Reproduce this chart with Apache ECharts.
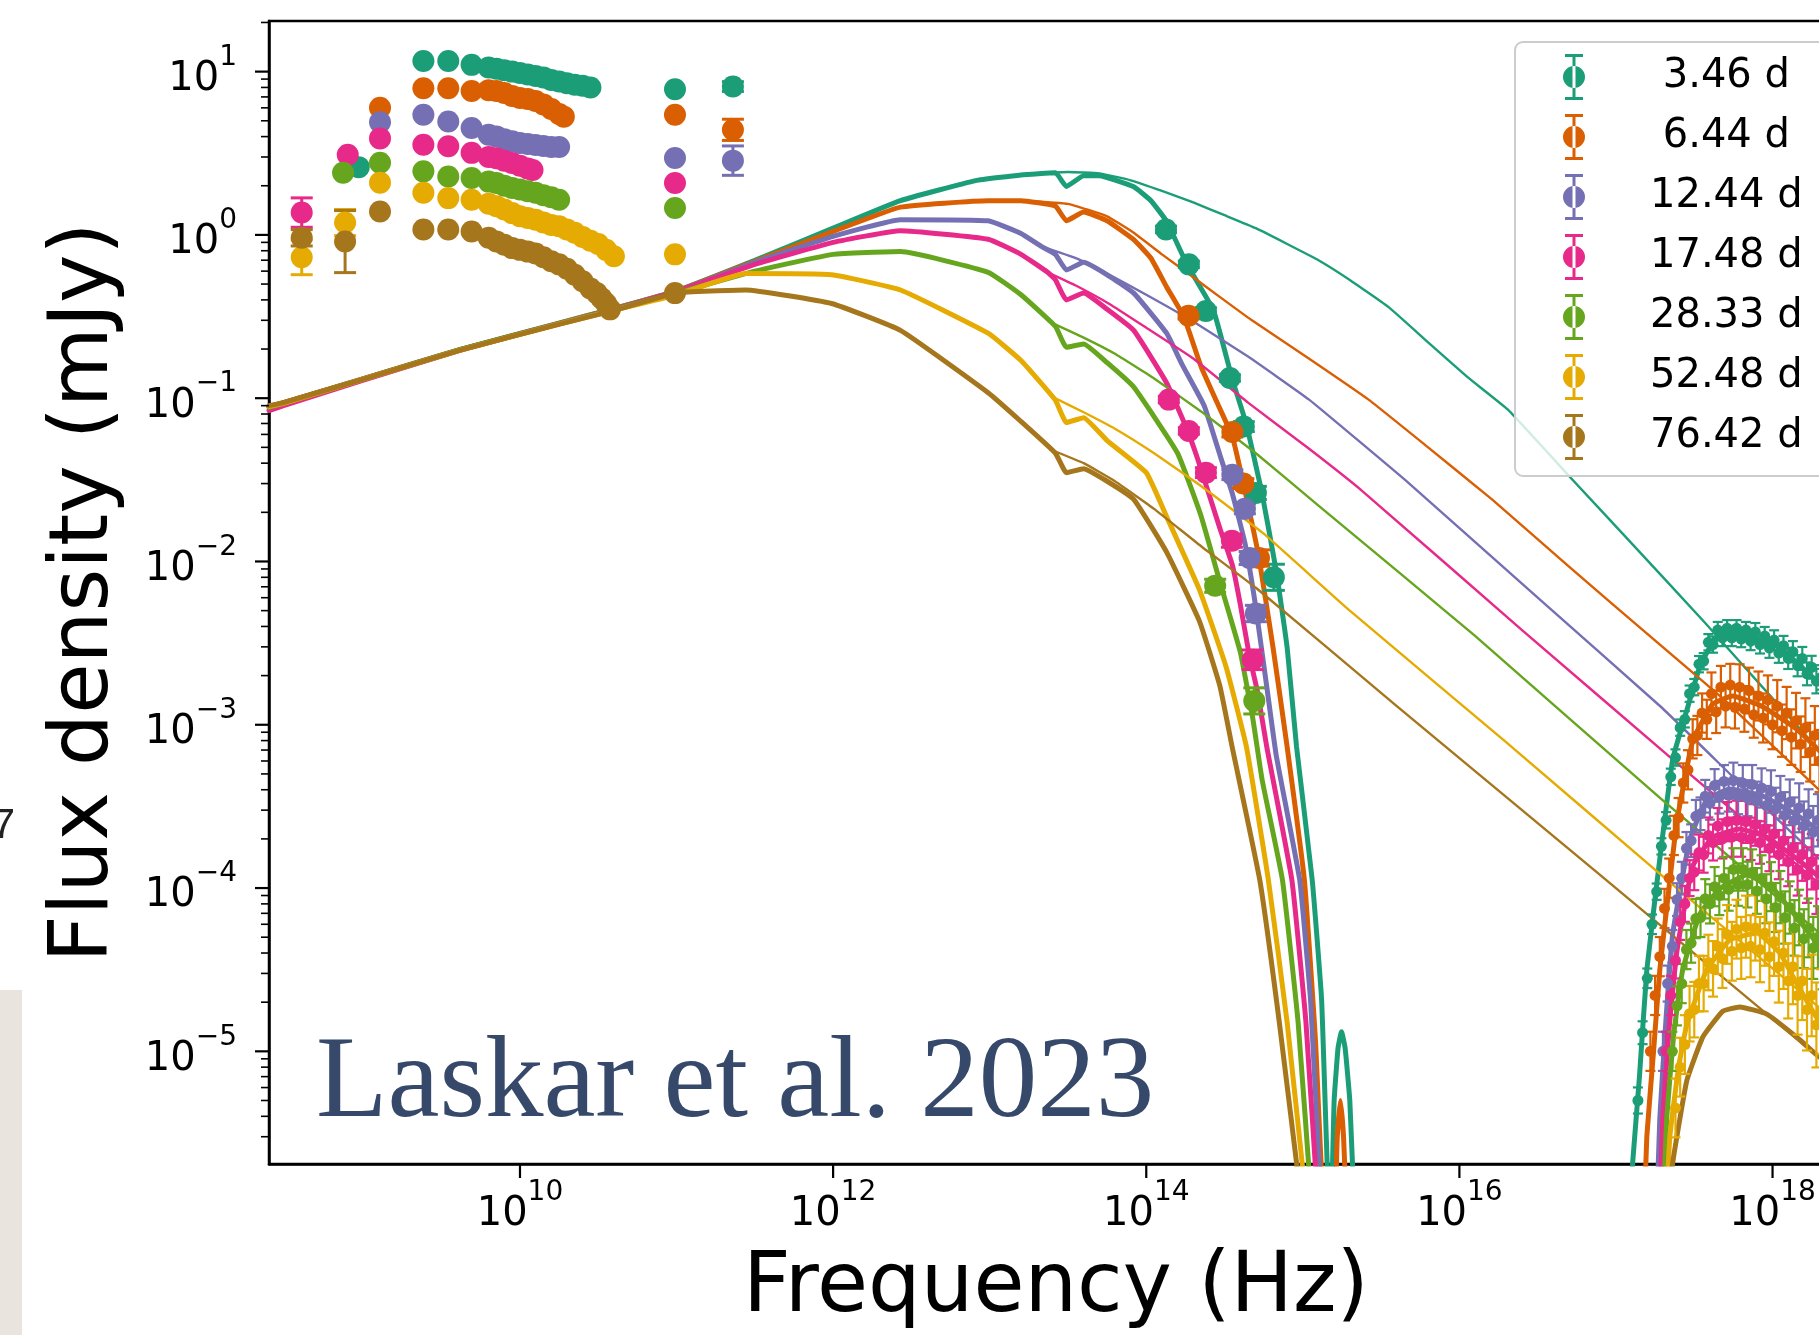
<!DOCTYPE html>
<html>
<head>
<meta charset="utf-8">
<script src="https://cdn.jsdelivr.net/npm/echarts@6/dist/echarts.min.js"></script>
<style>
  html, body { margin: 0; padding: 0; background: #ffffff; overflow: hidden; width: 1819px; height: 1335px; }
  /* the drawing surface is a bit wider than the page: the frame runs past its right edge */
  #chart { width: 1860px; height: 1335px; }
</style>
</head>
<body>
<div id="chart"></div>
<script>
// Afterglow SED of the burst at seven epochs.
// Every row is [log10(frequency / Hz), flux density / mJy (, error half-width in dex)].

const epochLabels = [' 3.46 d', ' 6.44 d', '12.44 d', '17.48 d', '28.33 d', '52.48 d', '76.42 d'];
const epochColors = ['#1b9e77', '#d95f02', '#7570b3', '#e7298a', '#66a61e', '#e6ab02', '#a6761d'];

// Tick layout of the log axes (exponents of ten)
const yMajorExponents = [-5, -4, -3, -2, -1, 0, 1];
const yMinorMultipliers = [2, 3, 4, 5, 6, 7, 8, 9];
const xMajorExponents = [10, 12, 14, 16, 18];
const logFreqRange = [8.397, 18.45];
const logFluxRange = [-5.69, 1.31];

// ---- model with host absorption / extinction (radio to UV) ----
const absorbed_346 = [[8.397,0.089],[8.49,0.094],[8.98,0.130],[9.62,0.199],[10.26,0.290],[10.58,0.350],[11.0,0.455],[11.5,0.70],[12.0,1.10],[12.43,1.62],[12.91,2.15],[13.2,2.33],[13.42,2.40],[13.49,1.98],[13.60,2.30],[13.70,2.30],[13.92,1.97],[14.03,1.62],[14.13,1.21],[14.26,0.66],[14.43,0.343],[14.55,0.130],[14.64,0.0687],[14.74,0.0259],[14.83,0.00875],[14.90,0.00296],[14.96,7.3e-4],[15.06,1.12e-4],[15.12,2.06e-5],[15.17,1e-6],[15.18,1e-6],[15.20,5e-6],[15.225,1.05e-5],[15.247,1.32e-5],[15.27,1.05e-5],[15.30,5e-6],[15.33,1e-6]];
const absorbed_644 = [[8.397,0.089],[8.49,0.094],[8.98,0.130],[9.62,0.199],[10.26,0.289],[10.58,0.349],[11.0,0.452],[11.5,0.69],[12.0,1.05],[12.43,1.48],[12.99,1.62],[13.2,1.62],[13.42,1.50],[13.49,1.22],[13.60,1.38],[13.75,1.22],[13.92,0.935],[14.03,0.72],[14.13,0.48],[14.24,0.315],[14.35,0.156],[14.45,0.095],[14.55,0.058],[14.62,0.030],[14.72,0.0105],[14.81,2.96e-3],[14.90,7.3e-4],[15.01,1.12e-4],[15.08,1.2e-5],[15.14,1e-6],[15.20,1e-6],[15.22,3e-6],[15.24,5e-6],[15.26,3e-6],[15.28,1e-6]];
const absorbed_1244 = [[8.397,0.088],[8.49,0.093],[8.98,0.129],[9.62,0.198],[10.26,0.288],[10.58,0.347],[11.0,0.45],[11.5,0.68],[12.0,0.98],[12.43,1.24],[12.99,1.22],[13.2,1.02],[13.33,0.85],[13.42,0.76],[13.49,0.61],[13.60,0.68],[13.75,0.57],[13.92,0.44],[14.13,0.25],[14.23,0.16],[14.37,0.09],[14.47,0.045],[14.55,0.026],[14.63,0.013],[14.70,0.0052],[14.77,1.7e-3],[14.83,6.5e-4],[14.98,1.12e-4],[15.05,2e-5],[15.12,1e-6]];
const absorbed_1748 = [[8.397,0.084],[8.49,0.090],[8.98,0.127],[9.62,0.197],[10.26,0.287],[10.58,0.346],[11.0,0.45],[11.5,0.66],[12.0,0.90],[12.43,1.06],[12.99,0.94],[13.2,0.76],[13.37,0.59],[13.42,0.53],[13.49,0.40],[13.60,0.44],[13.75,0.35],[13.92,0.26],[14.13,0.124],[14.25,0.068],[14.33,0.042],[14.47,0.016],[14.55,0.0095],[14.60,0.0055],[14.66,0.0026],[14.71,1.6e-3],[14.77,7.3e-4],[14.93,1.12e-4],[15.02,1.5e-5],[15.10,1e-6]];
const absorbed_2833 = [[8.397,0.088],[8.49,0.093],[8.98,0.129],[9.62,0.198],[10.26,0.287],[10.58,0.345],[11.0,0.44],[11.5,0.60],[12.0,0.76],[12.43,0.79],[12.99,0.59],[13.2,0.43],[13.42,0.275],[13.49,0.205],[13.60,0.215],[13.75,0.165],[13.92,0.117],[14.20,0.046],[14.35,0.019],[14.47,0.0075],[14.60,2.8e-3],[14.68,1.1e-3],[14.74,4.6e-4],[14.87,1.12e-4],[14.97,1.5e-5],[15.06,1e-6]];
const absorbed_5248 = [[8.397,0.089],[8.49,0.093],[8.98,0.129],[9.62,0.197],[10.26,0.286],[10.58,0.342],[11.0,0.43],[11.44,0.58],[11.99,0.57],[12.43,0.46],[12.99,0.25],[13.2,0.17],[13.42,0.097],[13.49,0.071],[13.60,0.076],[13.75,0.055],[14.0,0.035],[14.13,0.0188],[14.34,0.0067],[14.51,0.00226],[14.64,7.3e-4],[14.78,1.12e-4],[14.90,1.5e-5],[15.03,1e-6]];
const absorbed_7642 = [[8.397,0.090],[8.49,0.094],[8.98,0.129],[9.62,0.197],[10.26,0.285],[10.58,0.340],[11.0,0.44],[11.44,0.46],[11.99,0.38],[12.43,0.26],[12.99,0.108],[13.2,0.072],[13.42,0.046],[13.49,0.035],[13.60,0.037],[13.75,0.031],[13.92,0.024],[14.13,0.0114],[14.34,0.0043],[14.47,0.00173],[14.55,7.2e-4],[14.725,1.12e-4],[14.85,1.5e-5],[15.0,1e-6]];

// ---- absorbed model in the X-ray band ----
const xrayModel_346 = [[17.09,1e-6],[17.107,2.1e-6],[17.15,7e-6],[17.197,3.15e-5],[17.28,1.51e-4],[17.363,6.18e-4],[17.452,1.22e-3],[17.535,2.26e-3],[17.618,3.2e-3],[17.70,3.6e-3],[17.835,3.55e-3],[18.046,2.96e-3],[18.257,1.95e-3],[18.45,1.3e-3]];
const xrayModel_644 = [[17.18,1e-6],[17.197,3e-6],[17.24,1.0e-5],[17.28,3.15e-5],[17.389,2.54e-4],[17.49,7.96e-4],[17.618,1.34e-3],[17.746,1.50e-3],[17.937,1.29e-3],[18.155,9.4e-4],[18.257,7.6e-4],[18.45,5.0e-4]];
const xrayModel_1244 = [[17.26,1e-6],[17.28,3.9e-6],[17.32,1.6e-5],[17.363,5.3e-5],[17.471,1.97e-4],[17.579,3.46e-4],[17.726,4.04e-4],[17.937,3.66e-4],[18.155,2.8e-4],[18.283,2.3e-4],[18.45,1.75e-4]];
const xrayModel_1748 = [[17.28,1e-6],[17.299,3.9e-6],[17.34,1.4e-5],[17.389,4.1e-5],[17.49,1.36e-4],[17.618,2.05e-4],[17.79,2.3e-4],[17.963,2.05e-4],[18.155,1.51e-4],[18.283,1.2e-4],[18.45,8.8e-5]];
const xrayModel_2833 = [[17.30,1e-6],[17.324,3.9e-6],[17.37,1.3e-5],[17.426,3.15e-5],[17.535,6.9e-5],[17.663,9.9e-5],[17.835,1.2e-4],[18.001,1.0e-4],[18.155,6.6e-5],[18.283,4.6e-5],[18.45,3.0e-5]];
const xrayModel_5248 = [[17.32,1e-6],[17.344,3e-6],[17.40,8e-6],[17.452,1.45e-5],[17.579,3.15e-5],[17.726,4.8e-5],[17.899,5.3e-5],[18.046,4.0e-5],[18.155,2.6e-5],[18.283,1.6e-5],[18.45,9e-6]];
const xrayModel_7642 = [[17.33,1e-6],[17.363,2.1e-6],[17.452,6.6e-6],[17.554,1.22e-5],[17.682,1.76e-5],[17.790,1.87e-5],[17.963,1.69e-5],[18.155,1.22e-5],[18.283,9.5e-6],[18.45,7e-6]];

// ---- intrinsic (unabsorbed) model above the peak ----
const intrinsic_346 = [[13.30,2.38],[13.50,2.43],[13.70,2.38],[13.90,2.16],[14.10,1.86],[14.30,1.58],[14.50,1.32],[14.70,1.10],[14.90,0.88],[15.10,0.70],[15.30,0.53],[15.55,0.36],[15.80,0.22],[16.05,0.135],[16.31,0.085],[16.70,0.0334],[17.10,0.0129],[17.57,4.2e-3],[18.0,1.45e-3],[18.45,4.8e-4]];
const intrinsic_644 = [[13.20,1.62],[13.50,1.55],[13.75,1.30],[13.92,1.03],[14.10,0.76],[14.30,0.55],[14.48,0.41],[14.67,0.302],[15.05,0.172],[15.42,0.098],[15.80,0.050],[16.21,0.0239],[16.70,0.0093],[17.20,3.6e-3],[17.67,1.48e-3],[18.45,2.9e-4]];
const intrinsic_1244 = [[13.33,0.85],[13.55,0.72],[13.75,0.58],[14.00,0.43],[14.30,0.295],[14.65,0.18],[15.04,0.098],[15.68,0.030],[16.50,6.0e-3],[17.29,1.28e-3],[17.82,4.1e-4],[18.45,1.1e-4]];
const intrinsic_1748 = [[13.37,0.59],[13.55,0.49],[13.77,0.375],[14.00,0.27],[14.30,0.175],[14.65,0.094],[15.04,0.049],[15.38,0.027],[16.40,3.8e-3],[17.41,5.6e-4],[18.45,8.0e-5]];
const intrinsic_2833 = [[13.40,0.288],[13.60,0.235],[13.80,0.187],[14.05,0.132],[14.35,0.083],[14.70,0.046],[15.10,0.022],[16.10,3.5e-3],[17.29,3.5e-4],[18.45,4.0e-5]];
const intrinsic_5248 = [[13.40,0.102],[13.60,0.082],[13.80,0.065],[14.05,0.046],[14.35,0.029],[14.75,0.0148],[15.30,5.0e-3],[16.30,7.8e-4],[17.29,1.2e-4],[18.45,1.4e-5]];
const intrinsic_7642 = [[13.40,0.048],[13.60,0.040],[13.80,0.031],[14.05,0.021],[14.35,0.0124],[14.70,6.9e-3],[15.60,1.3e-3],[16.50,2.5e-4],[17.25,6.3e-5],[18.15,1.2e-5],[18.45,6.9e-6]];

// ---- radio / mm / NIR-optical measurements: [lg nu, mJy, error in dex] ----
const obs_346 = [[8.97,2.6,0],[9.383,11.6,0],[9.542,11.6,0],[9.691,11.0,0],[9.80,10.6,0],[9.85,10.4,0],[9.90,10.2,0],[9.95,10.0,0],[10.00,9.8,0],[10.05,9.6,0],[10.10,9.4,0],[10.15,9.2,0],[10.20,8.9,0],[10.25,8.7,0],[10.30,8.5,0],[10.35,8.3,0],[10.40,8.2,0],[10.45,8.0,0],[10.99,7.8,0],[11.36,8.1,0.03],[14.126,1.08,0.02],[14.272,0.66,0.02],[14.381,0.342,0.02],[14.534,0.133,0.02],[14.623,0.067,0.03],[14.70,0.0263,0.04],[14.815,0.0080,0.08]];
const obs_644 = [[9.106,6.0,0],[9.383,7.9,0],[9.542,7.9,0],[9.691,7.6,0],[9.80,7.7,0],[9.85,7.6,0],[9.90,7.4,0],[9.95,7.1,0],[10.00,6.9,0],[10.05,6.8,0],[10.10,6.6,0],[10.15,6.3,0],[10.20,5.9,0],[10.25,5.5,0],[10.28,5.3,0],[10.99,5.45,0],[11.36,4.4,0.065],[14.27,0.32,0.02],[14.55,0.062,0.03],[14.62,0.030,0.03],[14.72,0.0105,0.05]];
const obs_1244 = [[9.106,4.9,0],[9.383,5.45,0],[9.542,4.95,0],[9.691,4.52,0],[9.80,4.1,0],[9.85,4.0,0],[9.90,3.85,0],[9.95,3.75,0],[10.00,3.65,0],[10.05,3.6,0],[10.10,3.55,0],[10.15,3.5,0],[10.20,3.45,0],[10.25,3.45,0],[10.99,2.96,0],[11.36,2.85,0.09],[14.55,0.034,0.03],[14.63,0.021,0.03],[14.66,0.0105,0.04],[14.70,0.0048,0.05]];
const obs_1748 = [[8.606,1.37,0.09],[8.90,3.1,0],[9.106,3.9,0],[9.383,3.57,0],[9.542,3.49,0],[9.691,3.18,0],[9.80,3.0,0],[9.85,2.95,0],[9.90,2.85,0],[9.95,2.76,0],[10.00,2.65,0],[10.05,2.55,0],[10.08,2.5,0],[10.99,2.08,0],[14.144,0.098,0.02],[14.272,0.063,0.02],[14.381,0.035,0.03],[14.547,0.0134,0.04],[14.68,0.0025,0.06]];
const obs_2833 = [[8.87,2.4,0],[9.106,2.77,0],[9.383,2.45,0],[9.542,2.28,0],[9.691,2.23,0],[9.80,2.12,0],[9.85,2.08,0],[9.90,2.0,0],[9.95,1.94,0],[10.00,1.9,0],[10.05,1.85,0],[10.10,1.81,0],[10.15,1.75,0],[10.20,1.7,0],[10.25,1.64,0],[10.99,1.46,0],[14.44,0.0071,0.04],[14.69,0.0014,0.08]];
const obs_5248 = [[8.606,0.73,0.107],[8.883,1.19,0.08],[9.106,2.09,0],[9.383,1.81,0],[9.542,1.68,0],[9.691,1.64,0],[9.80,1.55,0],[9.85,1.50,0],[9.90,1.43,0],[9.95,1.36,0],[10.00,1.30,0],[10.05,1.27,0],[10.10,1.24,0],[10.15,1.19,0],[10.20,1.15,0],[10.25,1.13,0],[10.30,1.08,0],[10.35,1.03,0],[10.40,0.97,0],[10.45,0.92,0],[10.50,0.88,0],[10.55,0.81,0],[10.60,0.74,0],[10.99,0.76,0]];
const obs_7642 = [[8.606,0.96,0.05],[8.883,0.91,0.19],[9.106,1.39,0],[9.383,1.08,0],[9.542,1.08,0],[9.691,1.05,0],[9.80,0.96,0],[9.85,0.91,0],[9.90,0.87,0],[9.95,0.83,0],[10.00,0.81,0],[10.05,0.79,0],[10.10,0.77,0],[10.15,0.73,0],[10.20,0.69,0],[10.25,0.66,0],[10.30,0.62,0],[10.35,0.57,0],[10.40,0.52,0],[10.45,0.47,0],[10.49,0.44,0],[10.52,0.41,0],[10.55,0.38,0],[10.575,0.35,0],[10.99,0.44,0]];

// ---- X-ray spectra: [lg nu, mJy, error in dex] ----
const xrayObs_346 = [[17.14,5.0e-6,0.08],[17.17,1.3e-5,0.07],[17.20,2.8e-5,0.06],[17.23,6.0e-5,0.06],[17.26,9.5e-5,0.05],[17.29,1.8e-4,0.05],[17.32,2.6e-4,0.05],[17.35,4.8e-4,0.05],[17.38,6.3e-4,0.05],[17.41,9.6e-4,0.05],[17.44,1.08e-3,0.05],[17.47,1.55e-3,0.05],[17.50,1.7e-3,0.05],[17.53,2.35e-3,0.05],[17.56,2.45e-3,0.05],[17.59,3.2e-3,0.05],[17.62,3.1e-3,0.05],[17.65,3.8e-3,0.05],[17.68,3.4e-3,0.05],[17.71,3.9e-3,0.05],[17.74,3.4e-3,0.05],[17.77,3.9e-3,0.05],[17.80,3.35e-3,0.05],[17.83,3.8e-3,0.05],[17.86,3.25e-3,0.055],[17.89,3.7e-3,0.055],[17.92,3.1e-3,0.055],[17.95,3.5e-3,0.055],[17.98,2.95e-3,0.06],[18.01,3.3e-3,0.06],[18.04,2.75e-3,0.06],[18.07,3.05e-3,0.06],[18.10,2.55e-3,0.065],[18.13,2.8e-3,0.065],[18.16,2.3e-3,0.065],[18.19,2.55e-3,0.07],[18.22,2.05e-3,0.07],[18.25,2.25e-3,0.07],[18.28,1.85e-3,0.075],[18.31,1.95e-3,0.075]];
const xrayObs_644 = [[17.22,1.0e-5,0.12],[17.25,2.2e-5,0.12],[17.28,3.8e-5,0.12],[17.31,7.5e-5,0.12],[17.34,1.15e-4,0.12],[17.37,2.1e-4,0.12],[17.40,2.7e-4,0.12],[17.43,4.4e-4,0.12],[17.46,5.3e-4,0.12],[17.49,8.2e-4,0.12],[17.52,8.6e-4,0.12],[17.55,1.18e-3,0.12],[17.58,1.08e-3,0.12],[17.61,1.55e-3,0.13],[17.64,1.2e-3,0.13],[17.67,1.7e-3,0.13],[17.70,1.3e-3,0.13],[17.73,1.75e-3,0.13],[17.76,1.28e-3,0.13],[17.79,1.7e-3,0.14],[17.82,1.25e-3,0.14],[17.85,1.62e-3,0.14],[17.88,1.15e-3,0.14],[17.91,1.5e-3,0.15],[17.94,1.1e-3,0.15],[17.97,1.42e-3,0.15],[18.00,1.0e-3,0.15],[18.03,1.3e-3,0.16],[18.06,9.2e-4,0.16],[18.09,1.18e-3,0.16],[18.12,8.4e-4,0.17],[18.15,1.06e-3,0.17],[18.18,7.6e-4,0.17],[18.21,9.6e-4,0.18],[18.24,6.8e-4,0.18],[18.27,8.6e-4,0.18],[18.30,6.0e-4,0.19],[18.33,7.6e-4,0.19]];
const xrayObs_1244 = [[17.30,1.0e-5,0.12],[17.33,2.6e-5,0.11],[17.36,4.4e-5,0.1],[17.39,8.5e-5,0.1],[17.42,1.15e-4,0.1],[17.45,1.75e-4,0.1],[17.48,1.95e-4,0.1],[17.51,2.75e-4,0.1],[17.54,2.85e-4,0.1],[17.57,3.65e-4,0.1],[17.60,3.3e-4,0.1],[17.63,4.25e-4,0.1],[17.66,3.6e-4,0.1],[17.69,4.5e-4,0.1],[17.72,3.7e-4,0.1],[17.75,4.55e-4,0.11],[17.78,3.65e-4,0.11],[17.81,4.4e-4,0.11],[17.84,3.55e-4,0.11],[17.87,4.3e-4,0.12],[17.90,3.4e-4,0.12],[17.93,4.1e-4,0.12],[17.96,3.2e-4,0.12],[17.99,3.9e-4,0.13],[18.02,3.05e-4,0.13],[18.05,3.6e-4,0.13],[18.08,2.8e-4,0.14],[18.11,3.35e-4,0.14],[18.14,2.6e-4,0.14],[18.17,3.1e-4,0.15],[18.20,2.4e-4,0.15],[18.23,2.85e-4,0.15],[18.26,2.2e-4,0.16],[18.29,2.6e-4,0.16],[18.32,2.0e-4,0.17]];
const xrayObs_1748 = [[17.32,1.0e-5,0.12],[17.35,2.2e-5,0.12],[17.38,3.6e-5,0.11],[17.41,6.2e-5,0.11],[17.44,8.0e-5,0.11],[17.47,1.15e-4,0.11],[17.50,1.25e-4,0.11],[17.53,1.65e-4,0.11],[17.56,1.6e-4,0.11],[17.59,2.1e-4,0.11],[17.62,1.9e-4,0.11],[17.65,2.4e-4,0.11],[17.68,2.0e-4,0.12],[17.71,2.55e-4,0.12],[17.74,2.05e-4,0.12],[17.77,2.6e-4,0.12],[17.80,2.05e-4,0.12],[17.83,2.55e-4,0.13],[17.86,2.0e-4,0.13],[17.89,2.45e-4,0.13],[17.92,1.9e-4,0.13],[17.95,2.3e-4,0.14],[17.98,1.75e-4,0.14],[18.01,2.15e-4,0.14],[18.04,1.6e-4,0.15],[18.07,1.95e-4,0.15],[18.10,1.45e-4,0.15],[18.13,1.75e-4,0.16],[18.16,1.3e-4,0.16],[18.19,1.6e-4,0.16],[18.22,1.2e-4,0.17],[18.25,1.45e-4,0.17],[18.28,1.05e-4,0.18],[18.31,1.3e-4,0.18]];
const xrayObs_2833 = [[17.36,1.0e-5,0.12],[17.39,1.9e-5,0.12],[17.42,2.6e-5,0.12],[17.45,4.2e-5,0.12],[17.48,4.6e-5,0.12],[17.51,6.5e-5,0.12],[17.54,6.6e-5,0.12],[17.57,8.6e-5,0.12],[17.60,8.0e-5,0.12],[17.63,1.02e-4,0.12],[17.66,9.0e-5,0.12],[17.69,1.15e-4,0.13],[17.72,9.8e-5,0.13],[17.75,1.3e-4,0.13],[17.78,1.05e-4,0.13],[17.81,1.3e-4,0.13],[17.84,1.05e-4,0.14],[17.87,1.25e-4,0.14],[17.90,9.6e-5,0.14],[17.93,1.15e-4,0.14],[17.96,8.6e-5,0.15],[17.99,1.02e-4,0.15],[18.02,7.6e-5,0.15],[18.05,8.8e-5,0.16],[18.08,6.6e-5,0.16],[18.11,7.6e-5,0.16],[18.14,5.7e-5,0.17],[18.17,6.6e-5,0.17],[18.20,4.9e-5,0.18],[18.23,5.7e-5,0.18],[18.26,4.3e-5,0.19],[18.29,5.0e-5,0.19],[18.32,3.8e-5,0.2]];
const xrayObs_5248 = [[17.38,4.5e-6,0.18],[17.41,8.0e-6,0.18],[17.44,1.1e-5,0.18],[17.47,1.7e-5,0.17],[17.50,1.8e-5,0.17],[17.53,2.6e-5,0.17],[17.56,2.6e-5,0.17],[17.59,3.5e-5,0.17],[17.62,3.2e-5,0.17],[17.65,4.4e-5,0.17],[17.68,3.7e-5,0.18],[17.71,5.2e-5,0.18],[17.74,4.1e-5,0.18],[17.77,5.6e-5,0.18],[17.80,4.3e-5,0.19],[17.83,5.8e-5,0.19],[17.86,4.4e-5,0.19],[17.89,5.7e-5,0.2],[17.92,4.2e-5,0.2],[17.95,5.3e-5,0.2],[17.98,3.8e-5,0.21],[18.01,4.7e-5,0.21],[18.04,3.3e-5,0.22],[18.07,4.0e-5,0.22],[18.10,2.7e-5,0.23],[18.13,3.3e-5,0.23],[18.16,2.2e-5,0.24],[18.19,2.7e-5,0.24],[18.22,1.8e-5,0.25],[18.25,2.2e-5,0.25],[18.28,1.45e-5,0.26],[18.31,1.75e-5,0.26]];
const xrayObs_7642 = [];

const absorbedModels = [absorbed_346, absorbed_644, absorbed_1244, absorbed_1748, absorbed_2833, absorbed_5248, absorbed_7642];
const xrayModels = [xrayModel_346, xrayModel_644, xrayModel_1244, xrayModel_1748, xrayModel_2833, xrayModel_5248, xrayModel_7642];
const intrinsicModels = [intrinsic_346, intrinsic_644, intrinsic_1244, intrinsic_1748, intrinsic_2833, intrinsic_5248, intrinsic_7642];
const observations = [obs_346, obs_644, obs_1244, obs_1748, obs_2833, obs_5248, obs_7642];
const xrayObservations = [xrayObs_346, xrayObs_644, xrayObs_1244, xrayObs_1748, xrayObs_2833, xrayObs_5248, xrayObs_7642];

// ---------------------------------------------------------------------------
const FONT = 'DejaVu Sans';
const pow10 = e => Math.pow(10, e);
const toXY = rows => rows.map(r => [pow10(r[0]), r[1]]);
const X_MIN = pow10(logFreqRange[0]), X_MAX = pow10(logFreqRange[1]);
const Y_MIN = pow10(logFluxRange[0]), Y_MAX = pow10(logFluxRange[1]);
const XRAY_SPLIT = 1e16;

// errorbar glyph used in the legend: caps, stem and a round marker
const errorbarIcon = 'path://M2,0H20V3H2Z M9.5,0H12.5V46H9.5Z M2,43H20V46H2Z M0,23A11,11 0 1,0 22,23A11,11 0 1,0 0,23Z';

function powerLabel(value) {
  const e = Math.round(Math.log10(value));
  const txt = e < 0 ? '\u2212' + Math.abs(e) : String(e);
  return '{b|10}{s|' + txt + '}';
}
const tickRich = {
  b: { fontFamily: FONT, fontSize: 40, lineHeight: 56, verticalAlign: 'bottom', color: '#000' },
  s: { fontFamily: FONT, fontSize: 28, lineHeight: 28, verticalAlign: 'top', color: '#000' }
};

function errorBarSeries(name, color, rows) {
  const data = rows.filter(r => r[2] > 0).map(r => {
    const k = pow10(r[2]);
    return [pow10(r[0]), r[1] / k, r[1] * k];
  });
  return {
    type: 'custom', name, coordinateSystem: 'cartesian2d', z: 3, silent: true, clip: true,
    encode: { x: 0, y: [1, 2] },
    data,
    renderItem(params, api) {
      const nu = api.value(0);
      const lo = api.coord([nu, api.value(1)]);
      const hi = api.coord([nu, api.value(2)]);
      const xr = nu > XRAY_SPLIT;
      const cap = xr ? 5 : 11;
      const st = { stroke: color, lineWidth: xr ? 2.2 : 3 };
      return {
        type: 'group', children: [
          { type: 'line', shape: { x1: lo[0], y1: lo[1], x2: hi[0], y2: hi[1] }, style: st },
          { type: 'line', shape: { x1: lo[0] - cap, y1: lo[1], x2: lo[0] + cap, y2: lo[1] }, style: st },
          { type: 'line', shape: { x1: hi[0] - cap, y1: hi[1], x2: hi[0] + cap, y2: hi[1] }, style: st }
        ]
      };
    }
  };
}

function modelLine(name, color, rows, width, smooth) {
  return {
    type: 'line', name, data: toXY(rows), z: 2, silent: true,
    symbol: 'none', showSymbol: false, smooth, clip: true,
    lineStyle: { color, width, cap: 'round', join: 'round' },
    itemStyle: { color }
  };
}

const series = [];
epochLabels.forEach((name, i) => {
  const color = epochColors[i];
  const rows = observations[i].concat(xrayObservations[i]);
  series.push({
    type: 'scatter', name, data: toXY(rows), z: 4, silent: true, clip: true,
    symbol: 'circle', symbolSize: v => (v[0] > XRAY_SPLIT ? 11 : 22),
    itemStyle: { color, opacity: 1 }
  });
  series.push(errorBarSeries(name, color, rows));
});
epochLabels.forEach((name, i) => {
  const color = epochColors[i];
  series.push(modelLine(name, color, absorbedModels[i], 5, 0.12));
  series.push(modelLine(name, color, xrayModels[i], 5, 0.12));
  series.push(modelLine(name, color, intrinsicModels[i], 2.4, 0.1));
});

// outward ticks on the log axes (major decades on y, every second decade on x, minor 2..9 on y)
const tickData = [];
for (let e = -6; e <= 1; e++) {
  yMinorMultipliers.forEach(k => {
    const v = k * pow10(e);
    if (v > Y_MIN && v < Y_MAX) tickData.push([X_MIN, v, 0]);
  });
}
yMajorExponents.forEach(e => tickData.push([X_MIN, pow10(e), 1]));
xMajorExponents.forEach(e => tickData.push([pow10(e), Y_MIN, 2]));
series.push({
  type: 'custom', coordinateSystem: 'cartesian2d', z: 6, silent: true, clip: false,
  encode: { x: 0, y: 1 },
  data: tickData,
  renderItem(params, api) {
    const kind = api.value(2);
    const p = api.coord([api.value(0), api.value(1)]);
    if (kind === 2) {
      return { type: 'line', shape: { x1: p[0], y1: p[1], x2: p[0], y2: p[1] + 14 }, style: { stroke: '#000', lineWidth: 2.2 } };
    }
    const len = kind === 1 ? 14 : 8;
    return { type: 'line', shape: { x1: p[0], y1: p[1], x2: p[0] - len, y2: p[1] }, style: { stroke: '#000', lineWidth: kind === 1 ? 2.2 : 1.6 } };
  }
});

const chart = echarts.init(document.getElementById('chart'), null, { renderer: 'canvas', width: 1860, height: 1335 });
chart.setOption({
  animation: false,
  backgroundColor: '#ffffff',
  grid: { left: 269, top: 21, right: 17, bottom: 171, show: true, borderColor: '#000', borderWidth: 2.5, backgroundColor: 'transparent', outerBoundsMode: 'none' },
  xAxis: {
    type: 'log', logBase: 100, min: X_MIN, max: X_MAX, splitNumber: 5,
    axisLine: { lineStyle: { color: '#000', width: 2.5 } },
    axisTick: { show: false }, splitLine: { show: false }, minorTick: { show: false },
    axisLabel: { formatter: powerLabel, rich: tickRich, margin: 15, showMinLabel: false, showMaxLabel: false },
    name: 'Frequency (Hz)', nameLocation: 'middle', nameGap: 84,
    nameTextStyle: { fontFamily: FONT, fontSize: 83, color: '#000' }
  },
  yAxis: {
    type: 'log', logBase: 10, min: Y_MIN, max: Y_MAX, splitNumber: 7,
    axisLine: { lineStyle: { color: '#000', width: 2.5 } },
    axisTick: { show: false }, splitLine: { show: false }, minorTick: { show: false },
    axisLabel: { formatter: powerLabel, rich: tickRich, margin: 32, showMinLabel: false, showMaxLabel: false },
    name: 'Flux density (mJy)', nameLocation: 'middle', nameGap: 142,
    nameTextStyle: { fontFamily: FONT, fontSize: 82, color: '#000' }
  },
  legend: {
    orient: 'vertical', left: 1515, top: 42, padding: [12, 40, 16, 48],
    itemGap: 14, itemWidth: 22, itemHeight: 46, selectedMode: false,
    backgroundColor: 'rgba(255,255,255,0.8)', borderColor: '#cccccc', borderWidth: 2, borderRadius: 8,
    itemStyle: { borderWidth: 0 },
    textStyle: { fontFamily: FONT, fontSize: 40, color: '#000', padding: [0, 0, 0, 60] },
    data: epochLabels.map((n, i) => ({ name: n, icon: errorbarIcon, itemStyle: { color: epochColors[i], borderWidth: 0 } })),
    z: 10
  },
  graphic: [
    { type: 'rect', shape: { x: 0, y: 990, width: 22, height: 345 }, style: { fill: '#e9e4de' }, z: 0 },
    { type: 'text', x: 15, y: 826, style: { text: '7', fontSize: 42, fontFamily: 'Liberation Sans', fill: '#222', align: 'right', verticalAlign: 'middle' }, z: 20 },
    { type: 'text', x: 316, y: 1085, style: { text: 'Laskar et al. 2023', fontSize: 117, fontFamily: 'Liberation Serif', fill: '#36496a', verticalAlign: 'middle' }, z: 100 }
  ],
  series
});
</script>
</body>
</html>
